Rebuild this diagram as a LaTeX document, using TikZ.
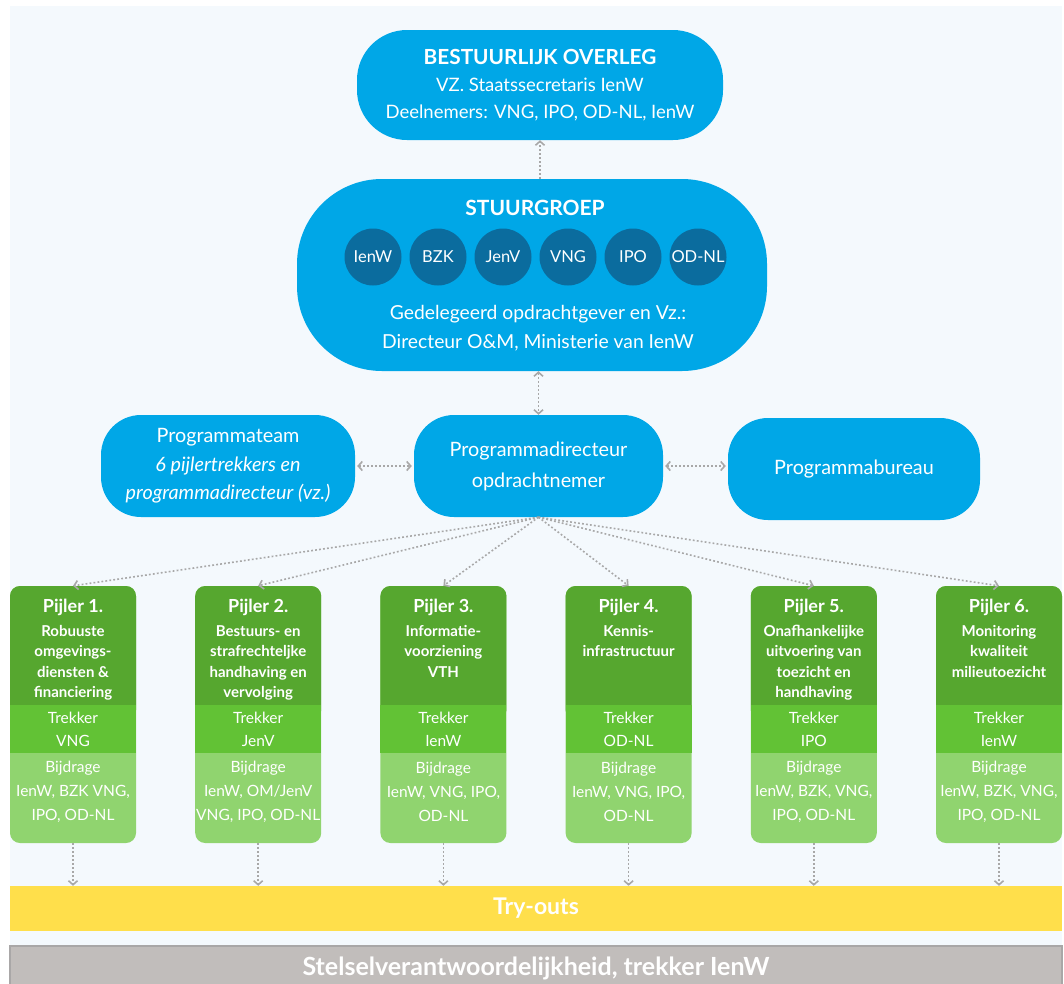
\documentclass[tikz,border=0pt]{standalone}
\usepackage{fontspec}
\setmainfont{Lato}
\usetikzlibrary{arrows.meta}
\definecolor{bg}{HTML}{F4F9FD}
\definecolor{blu}{HTML}{00A7E7}
\definecolor{dblu}{HTML}{0B6C9E}
\definecolor{gh}{HTML}{56A72F}
\definecolor{gt}{HTML}{62C235}
\definecolor{gb}{HTML}{90D46F}
\definecolor{arr}{HTML}{A8A8A8}
\definecolor{yel}{HTML}{FFDF4B}
\definecolor{gry}{HTML}{C1BDBB}
\definecolor{gryb}{HTML}{A9A7A7}
\begin{document}
\begin{tikzpicture}[x=1pt,y=-1pt,
  bluebox/.style={fill=blu, text=white, align=center, inner sep=0pt},
  wt/.style={text=white, align=center, inner sep=0pt},
  circ/.style={circle, fill=dblu, text=white, minimum size=57pt, inner sep=0pt, font=\fontsize{16.5}{18}\selectfont},
  dar/.style={draw=arr, line width=1.6pt, dash pattern=on 1.8pt off 2.2pt,
     arrows={-Straight Barb[length=4pt,width=9pt,line width=1.6pt]}},
  dar2/.style={dar, arrows={Straight Barb[length=4pt,width=9pt,line width=1.6pt]-Straight Barb[length=4pt,width=9pt,line width=1.6pt]}},
  pil/.style={fill=gb, rounded corners=10pt, minimum width=126pt, minimum height=257pt, inner sep=0pt},
  htext/.style={wt, anchor=north, font=\bfseries\fontsize{15}{20.6}\selectfont},
  ttext/.style={wt, font=\fontsize{15.5}{23}\selectfont},
  btext/.style={wt, font=\fontsize{15.5}{24}\selectfont},
  bar/.style={minimum width=1052pt, inner sep=0pt, text=white, font=\bfseries\fontsize{23}{24}\selectfont}
]
\useasboundingbox (0,0) rectangle (1064,983);
\fill[bg] (10,6) rectangle (1062,983);

% Bestuurlijk overleg
\node[bluebox, minimum width=366pt, minimum height=110pt, rounded corners=50pt,
  font=\fontsize{18.5}{27}\selectfont] (bo) at (540,85)
  {{\bfseries\fontsize{20.8}{27}\selectfont BESTUURLIJK OVERLEG}\\VZ. Staatssecretaris IenW\\Deelnemers: VNG, IPO, OD-NL, IenW};

% Stuurgroep
\node[bluebox, minimum width=470pt, minimum height=192pt, rounded corners=85pt] (sg) at (532,275) {};
\node[wt, font=\bfseries\fontsize{21}{24}\selectfont] (sgt) at (535,208) {STUURGROEP};
\node[circ] (c1) at (373,257) {IenW};
\node[circ] (c2) at (438,257) {BZK};
\node[circ] (c3) at (503,257) {JenV};
\node[circ] (c4) at (568,257) {VNG};
\node[circ] (c5) at (633,257) {IPO};
\node[circ] (c6) at (698,257) {OD-NL};
\node[wt, font=\fontsize{19.3}{29}\selectfont] (sgd) at (538,328.5)
  {Gedelegeerd opdrachtgever en Vz.:\\Directeur O\&M, Ministerie van IenW};

% Middle row
\node[bluebox, minimum width=254pt, minimum height=102pt, rounded corners=40pt,
  font=\fontsize{19.8}{28.5}\selectfont] (pt) at (228,466)
  {Programmateam\\\itshape 6 pijlertrekkers en\\\itshape programmadirecteur (vz.)};
\node[bluebox, minimum width=249pt, minimum height=102pt, rounded corners=40pt,
  font=\fontsize{19.8}{31}\selectfont] (pd) at (538.5,466)
  {\raisebox{2pt}{Programmadirecteur}\\\raisebox{2pt}{opdrachtnemer}};
\node[bluebox, minimum width=252pt, minimum height=102pt, rounded corners=40pt,
  font=\fontsize{19.8}{28}\selectfont] (pb) at (854,469) {Programmabureau};

% arrows top
\draw[dar] (bo.south |- sg.north) -- (bo.south);
\draw[dar2] (pd.north |- sg.south) -- (pd.north);
\draw[dar2, shorten <=2pt, shorten >=2pt] (pt.east |- pd.west) -- (pd.west);
\draw[dar2, shorten <=2pt, shorten >=2pt] (pd.east) -- (pb.west |- pd.east);

% bars
\node[bar, fill=yel, minimum height=45pt] (to) at (536,908.5) {Try-outs};
\node[bar, fill=gry, draw=gryb, line width=1.5pt, minimum height=44pt,
  font=\bfseries\fontsize{25}{26}\selectfont] (st) at (536,968) {\raisebox{3pt}{Stelselverantwoordelijkheid, trekker IenW}};

% pillars
\foreach \i in {1,...,6} {
  \pgfmathsetmacro\cx{73+185.2*(\i-1)}
  \node[pil] (p\i) at (\cx,714.5) {};
  \fill[gh, rounded corners=10pt] (\cx-63,586) rectangle (\cx+63,720);
  \fill[gt] (\cx-63,705) rectangle (\cx+63,753);
  \draw[dar] (pd.south) -- (p\i.north);
  \draw[dar] (p\i.south) -- (p\i.south |- to.north);
}

\node[htext] (h1) at (p1.north |- 0,599) {{\fontsize{18}{24}\selectfont Pijler 1.}\\[3pt]Robuuste\\omgevings-\\diensten \&\\financiering};
\node[htext] (h2) at (p2.north |- 0,599) {{\fontsize{18}{24}\selectfont Pijler 2.}\\[3pt]Bestuurs- en\\strafrechteljke\\handhaving en\\vervolging};
\node[htext] (h3) at (p3.north |- 0,599) {{\fontsize{18}{24}\selectfont Pijler 3.}\\[3pt]Informatie-\\voorziening\\VTH};
\node[htext] (h4) at (p4.north |- 0,599) {{\fontsize{18}{24}\selectfont Pijler 4.}\\[3pt]Kennis-\\infrastructuur};
\node[htext] (h5) at (p5.north |- 0,599) {{\fontsize{18}{24}\selectfont Pijler 5.}\\[3pt]Onafhankelijke\\uitvoering van\\toezicht en\\handhaving};
\node[htext] (h6) at (p6.north |- 0,599) {{\fontsize{18}{24}\selectfont Pijler 6.}\\[3pt]Monitoring\\kwaliteit\\milieutoezicht};

\node[ttext] (t1) at (p1.north |- 0,729.5) {Trekker\\VNG};
\node[ttext] (t2) at (p2.north |- 0,729.5) {Trekker\\JenV};
\node[ttext] (t3) at (p3.north |- 0,729.5) {Trekker\\IenW};
\node[ttext] (t4) at (p4.north |- 0,729.5) {Trekker\\OD-NL};
\node[ttext] (t5) at (p5.north |- 0,729.5) {Trekker\\IPO};
\node[ttext] (t6) at (p6.north |- 0,729.5) {Trekker\\IenW};

\node[btext] (b1) at (p1.north |- 0,792) {Bijdrage\\IenW, BZK VNG,\\IPO, OD-NL};
\node[btext] (b2) at (p2.north |- 0,792) {Bijdrage\\IenW, OM/JenV\\VNG, IPO, OD-NL};
\node[btext] (b3) at (p3.north |- 0,792) {Bijdrage\\IenW, VNG, IPO,\\OD-NL};
\node[btext] (b4) at (p4.north |- 0,792) {Bijdrage\\IenW, VNG, IPO,\\OD-NL};
\node[btext] (b5) at (p5.north |- 0,792) {Bijdrage\\IenW, BZK, VNG,\\IPO, OD-NL};
\node[btext] (b6) at (p6.north |- 0,792) {Bijdrage\\IenW, BZK, VNG,\\IPO, OD-NL};
\end{tikzpicture}
\end{document}
